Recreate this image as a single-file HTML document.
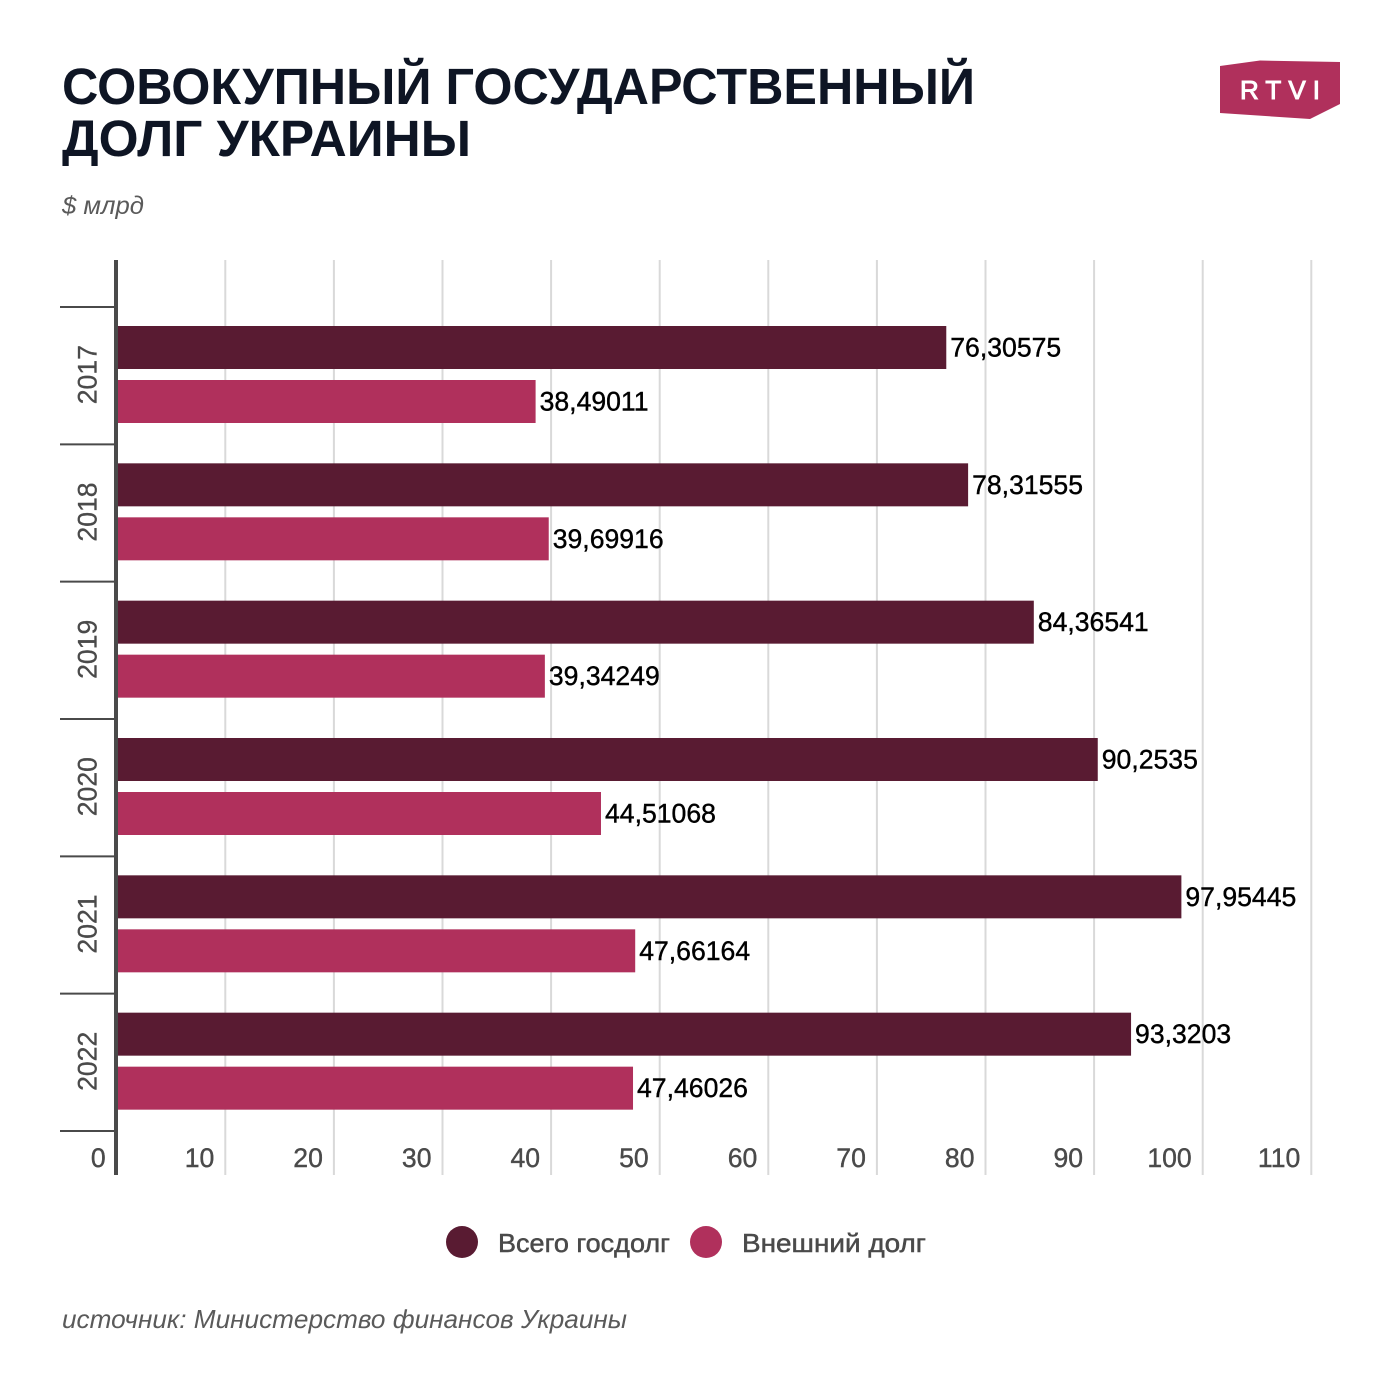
<!DOCTYPE html>
<html lang="ru">
<head>
<meta charset="utf-8">
<title>Совокупный государственный долг Украины</title>
<style>
html,body{margin:0;padding:0;background:#fff;width:1400px;height:1400px;overflow:hidden}
svg{display:block}
text{font-family:"Liberation Sans","DejaVu Sans",sans-serif}
</style>
</head>
<body>
<svg id="chart" xmlns="http://www.w3.org/2000/svg" width="1400" height="1400" viewBox="0 0 1400 1400">
  <rect width="1400" height="1400" fill="#fff"/>
  <text x="62" y="104" font-size="51" font-weight="700" fill="#0e1524" textLength="913" lengthAdjust="spacingAndGlyphs">СОВОКУПНЫЙ ГОСУДАРСТВЕННЫЙ</text>
  <text x="62" y="156" font-size="51" font-weight="700" fill="#0e1524" textLength="409" lengthAdjust="spacingAndGlyphs">ДОЛГ УКРАИНЫ</text>
  <text x="62" y="214" font-size="25" font-style="italic" fill="#5a5a5a" textLength="82" lengthAdjust="spacingAndGlyphs">$ млрд</text>

  <g>
    <polygon points="1220,66 1260,60.5 1340,62 1340,104 1310,119 1220,113" fill="#b0305c"/>
    <text x="1240" y="99" font-size="26" font-weight="400" fill="#fff" stroke="#fff" stroke-width="1" textLength="80" lengthAdjust="spacing">RTVI</text>
  </g>

  <g id="grid"></g>
  <g id="bars"></g>
  <g id="axes"></g>
  <g id="labels"></g>

  <g>
    <g>
      <circle cx="462" cy="1242" r="16" fill="#591b32"/>
      <text x="498" y="1252" font-size="26" fill="#4a4a4a" stroke="#4a4a4a" stroke-width="0.5" textLength="172" lengthAdjust="spacingAndGlyphs">Всего госдолг</text>
    </g>
    <g>
      <circle cx="706" cy="1242" r="16" fill="#b0305c"/>
      <text x="742" y="1252" font-size="26" fill="#4a4a4a" stroke="#4a4a4a" stroke-width="0.5" textLength="184" lengthAdjust="spacingAndGlyphs">Внешний долг</text>
    </g>
  </g>

  <text x="62" y="1328" font-size="26" font-style="italic" fill="#5a5a5a" textLength="565" lengthAdjust="spacingAndGlyphs">источник: Министерство финансов Украины</text>
</svg>

<script>
const years = [2017, 2018, 2019, 2020, 2021, 2022];
const totalDebt = [76.30575, 78.31555, 84.36541, 90.2535, 97.95445, 93.3203];
const externalDebt = [38.49011, 39.69916, 39.34249, 44.51068, 47.66164, 47.46026];
const xTicks = [0, 10, 20, 30, 40, 50, 60, 70, 80, 90, 100, 110];

const NS = 'http://www.w3.org/2000/svg';
const plotTop = 307, plotBottom = 1131, gridTop = 260, gridBottom = 1175;
const x0 = 116.7, pxPerUnit = 10.86;
const step = (plotBottom - plotTop) / years.length;
function xScale(v) { return x0 + v * pxPerUnit; }
function bandTop(i) { return plotTop + step * i; }
function make(tag, attrs, parent) {
  const el = document.createElementNS(NS, tag);
  for (const k in attrs) el.setAttribute(k, attrs[k]);
  parent.appendChild(el);
  return el;
}
const gridG = document.getElementById('grid');
const barsG = document.getElementById('bars');
const axesG = document.getElementById('axes');
const labelsG = document.getElementById('labels');

xTicks.forEach(function (t) {
  if (t > 0) {
    const line = make('line', {x1: xScale(t), x2: xScale(t), y1: gridTop, y2: gridBottom, stroke: '#d9d9d9', 'stroke-width': 2}, gridG);
    
    
  }
  const label = make('text', {x: xScale(t) - 11, y: 1167, 'text-anchor': 'end', 'font-size': 26.6, fill: '#4a4a4a', stroke: '#4a4a4a', 'stroke-width': 0.4}, labelsG);
  label.textContent = String(t);
  
  
});

function drawBar(value, top, color, name) {
  const bar = make('rect', {x: x0, y: top, width: xScale(value) - x0 + 0.9, height: 43, fill: color}, barsG);
  
  
  const label = make('text', {x: xScale(value) + 4.9, y: top + 30.5, 'font-size': 26.6, fill: '#000', stroke: '#000', 'stroke-width': 0.4}, labelsG);
  label.textContent = String(value).replace('.', ',');
  
  
}

years.forEach(function (year, i) {
  drawBar(totalDebt[i], bandTop(i) + 19, '#591b32', 'bar-total-debt');
  drawBar(externalDebt[i], bandTop(i) + 73, '#b0305c', 'bar-external-debt');
  const yc = bandTop(i) + step / 2;
  const yl = make('text', {transform: 'translate(96.5,' + (yc - 1) + ') rotate(-90)', 'text-anchor': 'middle', 'font-size': 26.6, fill: '#4a4a4a', stroke: '#4a4a4a', 'stroke-width': 0.3}, labelsG);
  yl.textContent = String(year);
  
  
});

for (let i = 0; i <= years.length; i++) {
  const tick = make('line', {x1: 60, x2: 115, y1: bandTop(i), y2: bandTop(i), stroke: '#4a4a4a', 'stroke-width': 2}, axesG);
  
  
}
const axisLine = make('rect', {x: 114, y: gridTop, width: 4, height: gridBottom - gridTop, fill: '#4a4a4a'}, axesG);


</script>
</body>
</html>
